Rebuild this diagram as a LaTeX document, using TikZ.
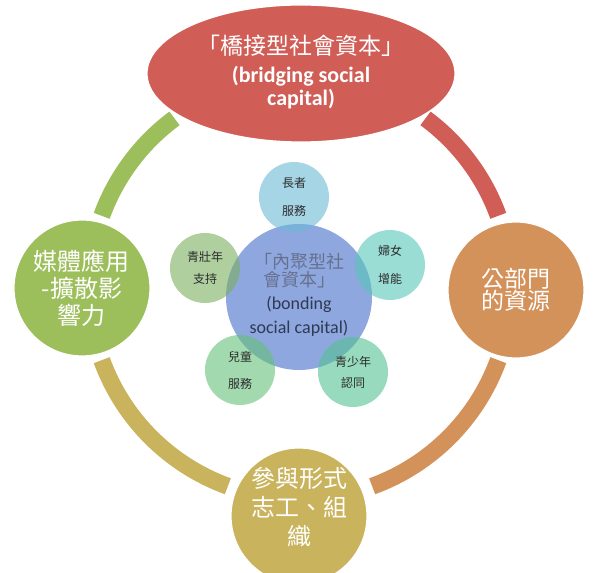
\documentclass[tikz,border=0pt]{standalone}
\usepackage{fontspec}
\setmainfont{Carlito}
\newfontfamily\cjk{Noto Sans CJK TC}
\usetikzlibrary{shapes.geometric}
\definecolor{bridge}{HTML}{D05E57}
\definecolor{pub}{HTML}{D4925B}
\definecolor{part}{HTML}{C9B35C}
\definecolor{media}{HTML}{9CBF5C}
\definecolor{bond}{HTML}{8FA7DF}
\definecolor{elder}{HTML}{6BB9D5}
\definecolor{women}{HTML}{57C6B9}
\definecolor{adult}{HTML}{7AAF5D}
\definecolor{child}{HTML}{64C078}
\definecolor{youth}{HTML}{53C191}
\definecolor{ink}{HTML}{2B2B2B}
\definecolor{inkblue}{HTML}{2E3A52}
\definecolor{inkgray}{HTML}{66718E}

\begin{document}
\begin{tikzpicture}[x=1pt,y=1pt,
  bignode/.style={circle,fill=#1,draw=white,line width=1.2pt,minimum size=136pt,inner sep=0pt},
  ringarc/.style={line width=17pt,draw=#1},
  smallnode/.style={circle,fill=#1,fill opacity=.6,text opacity=1,text=ink,minimum size=70pt,inner sep=0pt,align=center,font=\cjk\fontsize{12}{14}\selectfont},
  bigtext/.style={text=white,align=center,font=\cjk\fontsize{24}{27}\selectfont}]
\useasboundingbox (0,0) rectangle (600,573);
\clip (0,0) rectangle (600,573);
\coordinate (o) at (300,285);
% ring between the outer nodes
\foreach \a/\b/\c in {20/53.5/bridge,126.5/160/media,200/250/part,290/340/pub}{
  \draw[ringarc=\c] ([shift={(\a:211)}]o) arc[start angle=\a,end angle=\b,radius=211];}
% outer nodes
\node[ellipse,fill=bridge,draw=white,line width=1.2pt,minimum width=308pt,minimum height=137pt,inner sep=0pt] (br) at (301,499.5) {};
\node[bigtext,font=\bfseries\fontsize{22}{23}\selectfont] (brt) at ([yshift=1pt]br.center) {{\cjk\mdseries\fontsize{23}{23}\selectfont 「橋接型社會資本」}\\[5pt](bridging social\\capital)};
\node[bignode=pub] (pr) at (516,283) {};
\node[bigtext,font=\cjk\fontsize{23}{22}\selectfont] (prt) at (pr.center) {公部門\\的資源};
\node[bignode=part] (pa) at (299,57) {};
\node[bigtext,font=\cjk\fontsize{24}{29}\selectfont] (pat) at ([yshift=9pt]pa.center) {參與形式\\志工、組\\織};
\node[bignode=media] (ml) at (82,285) {};
\node[bigtext] (mlt) at (ml.center) {媒體應用\\-擴散影\\響力};
% bonding core
\node[circle,fill=bond,minimum size=146pt,inner sep=0pt] (bd) at (299,276) {};
\node[align=center,font=\fontsize{18}{18}\selectfont] (bdt) at ([yshift=2pt]bd.center)
  {\textcolor{inkgray}{\cjk 「內聚型社}\\\textcolor{inkgray}{\cjk 會資本」}\\[5pt]\textcolor{inkblue}{(bonding}\\[6pt]\textcolor{inkblue}{social capital)}};
\node[smallnode=elder] (s1) at (294,376) {長者\\[14pt]服務};
\node[smallnode=women] (s2) at (390,308) {婦女\\[14pt]增能};
\node[smallnode=adult] (s3) at (205,305) {青壯年\\[8pt]支持};
\node[smallnode=child] (s4) at (240,203) {兒童\\[13pt]服務};
\node[smallnode=youth] (s5) at (353,201) {青少年\\[7pt]認同};
\end{tikzpicture}
\end{document}
